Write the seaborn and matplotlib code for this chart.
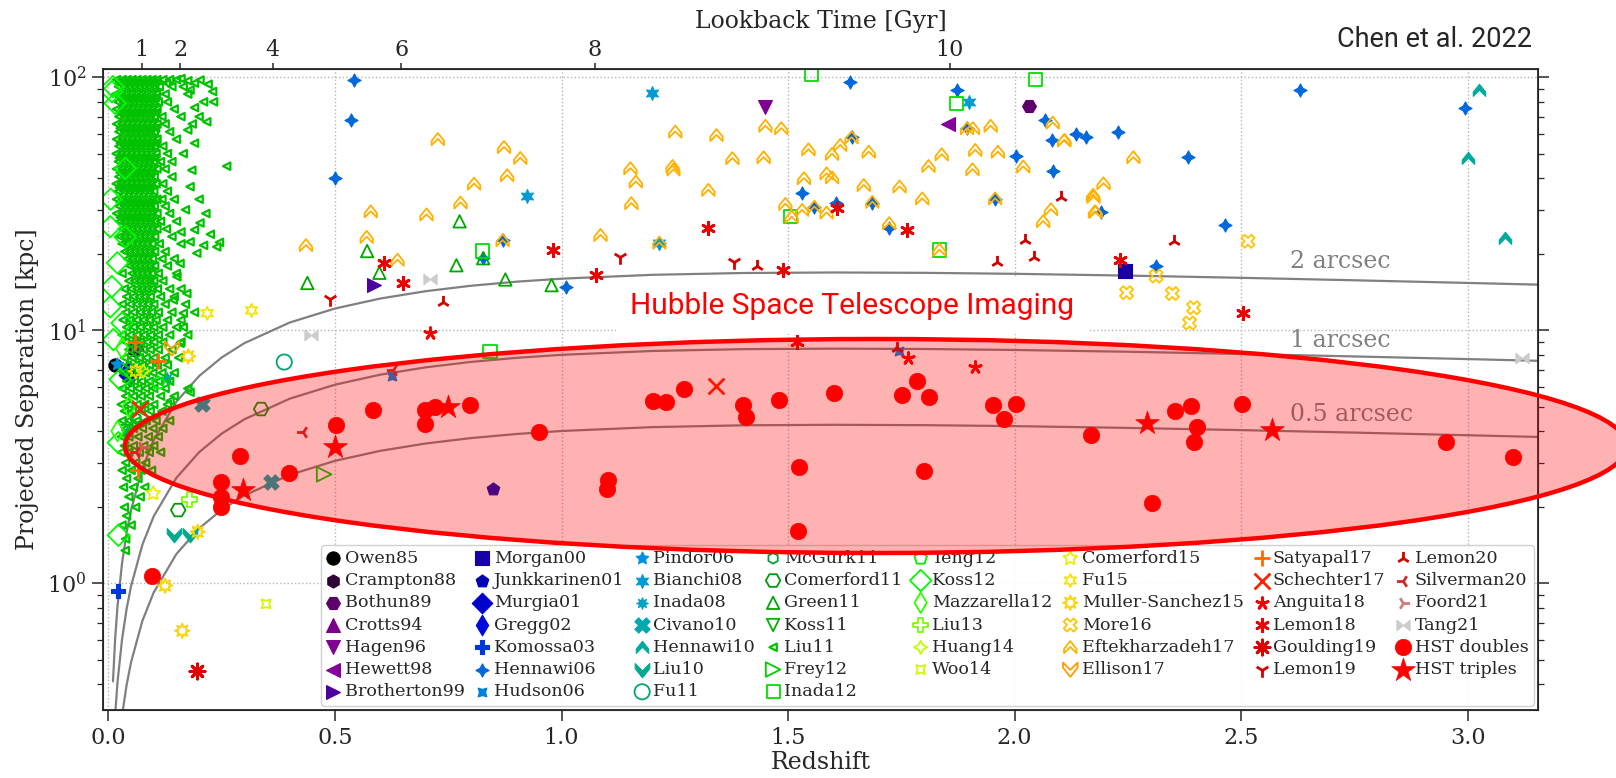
import numpy as np
import matplotlib
matplotlib.use("Agg")
import matplotlib.pyplot as plt
from matplotlib.path import Path
from matplotlib.patches import Ellipse
import seaborn as sns

sns.set_style("ticks")
plt.rcParams["font.family"] = ["DejaVu Serif"]
plt.rcParams["mathtext.fontset"] = "dejavuserif"

# ---------------- data (redshift, projected separation kpc) ----------------
owen85 = [(0.015, 7.3)]
crampton88 = [(0.057, 8.4)]
bothun89 = [(2.032, 77.0), (0.059, 8.6)]
crotts94 = [(0.062, 8.8)]
hagen96 = [(1.450, 76.6)]
hewett98 = [(1.852, 65.3)]
brotherton99 = [(0.585, 15.1)]
morgan00 = [(2.243, 17.1)]
junkkarinen01 = [(0.848, 2.37)]
murgia01 = [(0.046, 6.66)]
gregg02 = [(0.040, 6.9)]
komossa03 = [(0.022, 0.93)]
hennawi06 = [(0.542, 97.8), (0.536, 67.8), (0.50, 40.0), (1.636, 96.2), (1.873, 89.6),
             (2.067, 68.2), (2.084, 42.6), (1.531, 34.8), (1.558, 30.8), (1.605, 31.8),
             (1.686, 32.0), (1.723, 25.3), (1.957, 33.0), (1.640, 57.9), (1.895, 62.9),
             (2.082, 56.5), (2.135, 59.7), (2.158, 58.2), (2.003, 48.8), (1.216, 22.2),
             (1.009, 14.8), (2.228, 61.0), (2.382, 48.6), (2.465, 26.2), (2.313, 17.9),
             (2.629, 89.1), (2.994, 75.4), (2.190, 29.4), (0.870, 22.7), (0.827, 19.3)]
hudson06 = [(0.625, 6.6), (1.745, 8.3)]
pindor06 = [(0.020, 7.4)]
bianchi08 = [(1.200, 86.5), (1.899, 80.1), (1.216, 22.2), (0.923, 34.0), (0.041, 3.94)]
inada08 = [(0.129, 6.46)]
civano10 = [(0.359, 2.52), (0.206, 5.14)]
hennawi10 = [(3.024, 89.6), (3.000, 47.9), (3.082, 23.1)]
liu10 = [(0.145, 1.55), (0.179, 1.55)]
fu11 = [(0.388, 7.5)]
mcgurk11 = [(0.060, 4.5)]
comerford11 = [(0.337, 4.89), (0.154, 1.95)]
green11 = [(0.439, 15.4), (0.598, 16.9), (0.571, 20.6), (0.876, 15.9), (0.978, 15.1),
           (0.768, 18.1), (0.775, 27.0), (0.827, 19.3)]
koss11 = [(0.040, 4.0)]
liu11_rows = {
    98: [0.018, 0.03, 0.041, 0.052, 0.063, 0.074, 0.085, 0.096, 0.107, 0.12, 0.135, 0.15],
    95: [0.024, 0.036, 0.047, 0.058, 0.069, 0.08, 0.091, 0.102, 0.128],
    92: [0.022, 0.035, 0.046, 0.057, 0.068, 0.079, 0.09, 0.101, 0.112, 0.14, 0.165],
    86: [0.016, 0.028, 0.04, 0.051, 0.062, 0.073, 0.084, 0.095, 0.106, 0.125, 0.175],
    83: [0.025, 0.037, 0.048, 0.059, 0.07, 0.081, 0.092, 0.103],
    80: [0.021, 0.033, 0.044, 0.055, 0.066, 0.077, 0.088, 0.099, 0.11, 0.13],
    75: [0.018, 0.03, 0.041, 0.052, 0.063, 0.074, 0.085, 0.096, 0.107, 0.145],
    72.5: [0.026, 0.038, 0.049, 0.06, 0.071, 0.082, 0.093, 0.104],
    70: [0.023, 0.035, 0.046, 0.057, 0.068, 0.079, 0.09, 0.101, 0.118, 0.16],
    65.5: [0.018, 0.03, 0.041, 0.052, 0.063, 0.074, 0.085, 0.096, 0.107, 0.125, 0.185],
    63: [0.026, 0.038, 0.049, 0.06, 0.071, 0.082, 0.093, 0.104],
    61: [0.023, 0.035, 0.046, 0.057, 0.068, 0.079, 0.09, 0.101, 0.135],
    57: [0.018, 0.03, 0.041, 0.052, 0.063, 0.074, 0.085, 0.096, 0.107, 0.15],
    55: [0.026, 0.038, 0.049, 0.06, 0.071, 0.082, 0.093, 0.104],
    53.5: [0.023, 0.035, 0.046, 0.057, 0.068, 0.079, 0.09, 0.101, 0.12],
    50: [0.017, 0.028, 0.039, 0.05, 0.061, 0.072, 0.083, 0.094, 0.105, 0.13],
    48: [0.024, 0.036, 0.047, 0.058, 0.069, 0.08, 0.091, 0.102],
    46.5: [0.022, 0.034, 0.045, 0.056, 0.067, 0.078, 0.089, 0.1, 0.115, 0.14],
    43.5: [0.018, 0.03, 0.041, 0.052, 0.063, 0.074, 0.085, 0.096, 0.107, 0.125],
    42: [0.026, 0.038, 0.049, 0.06, 0.071, 0.082, 0.093],
    40.5: [0.023, 0.035, 0.046, 0.057, 0.068, 0.079, 0.09, 0.101, 0.14],
    38: [0.017, 0.028, 0.039, 0.05, 0.061, 0.072, 0.083, 0.094, 0.105, 0.12],
    36.7: [0.024, 0.036, 0.047, 0.058, 0.069, 0.08, 0.091],
    35.5: [0.022, 0.034, 0.045, 0.056, 0.067, 0.078, 0.089, 0.1, 0.13],
    33: [0.018, 0.03, 0.041, 0.052, 0.063, 0.074, 0.085, 0.096, 0.107, 0.118, 0.145],
    32: [0.026, 0.038, 0.049, 0.06, 0.071, 0.082, 0.093],
    31: [0.023, 0.035, 0.046, 0.057, 0.068, 0.079, 0.09, 0.101, 0.125],
    29: [0.018, 0.03, 0.041, 0.052, 0.063, 0.074, 0.085, 0.096, 0.107, 0.135],
    28: [0.026, 0.038, 0.049, 0.06, 0.071, 0.082, 0.093],
    27: [0.025, 0.036, 0.047, 0.058, 0.069, 0.08, 0.091, 0.102, 0.115, 0.15],
    25.2: [0.03, 0.041, 0.052, 0.063, 0.074, 0.085, 0.096, 0.107, 0.128],
    23.5: [0.025, 0.036, 0.047, 0.058, 0.069, 0.08, 0.091, 0.102, 0.14],
    22: [0.03, 0.041, 0.052, 0.063, 0.074, 0.085, 0.096, 0.112, 0.16],
    20.5: [0.036, 0.047, 0.058, 0.069, 0.08, 0.091, 0.102, 0.125],
    19.2: [0.042, 0.053, 0.064, 0.075, 0.086, 0.097, 0.118, 0.145],
    18: [0.047, 0.058, 0.069, 0.08, 0.091, 0.102, 0.13],
    16.8: [0.03, 0.052, 0.063, 0.074, 0.085, 0.096, 0.11, 0.15],
    15.7: [0.045, 0.058, 0.069, 0.08, 0.091, 0.1, 0.12],
    14.6: [0.035, 0.05, 0.063, 0.074, 0.085, 0.096, 0.108, 0.135, 0.16],
    13.6: [0.04, 0.055, 0.068, 0.08, 0.092, 0.115, 0.145],
    12.7: [0.03, 0.048, 0.062, 0.075, 0.087, 0.1, 0.125, 0.17],
    11.8: [0.038, 0.055, 0.07, 0.083, 0.095, 0.11, 0.14, 0.19],
    11: [0.032, 0.047, 0.062, 0.077, 0.09, 0.105, 0.13, 0.16],
    10.3: [0.04, 0.055, 0.07, 0.085, 0.1, 0.12, 0.15],
    9.6: [0.03, 0.048, 0.063, 0.078, 0.093, 0.11, 0.135, 0.175],
    9.0: [0.038, 0.055, 0.07, 0.085, 0.1, 0.12, 0.16],
    8.4: [0.045, 0.062, 0.077, 0.092, 0.11, 0.14],
    7.8: [0.035, 0.052, 0.068, 0.083, 0.1, 0.125, 0.155],
    7.3: [0.042, 0.06, 0.075, 0.09, 0.108, 0.13],
    6.8: [0.033, 0.05, 0.067, 0.082, 0.098, 0.118, 0.145],
    6.3: [0.04, 0.057, 0.073, 0.09, 0.11, 0.135],
    5.9: [0.03, 0.048, 0.065, 0.082, 0.1, 0.125, 0.175],
    5.5: [0.038, 0.055, 0.072, 0.09, 0.115, 0.145],
    5.1: [0.028, 0.045, 0.063, 0.08, 0.1, 0.13],
    4.8: [0.035, 0.053, 0.072, 0.092, 0.118],
    4.4: [0.03, 0.045, 0.063, 0.083, 0.105, 0.135],
    4.1: [0.038, 0.055, 0.075, 0.098, 0.12],
    3.8: [0.028, 0.045, 0.065, 0.088, 0.11],
    3.5: [0.035, 0.055, 0.078, 0.1],
    3.3: [0.028, 0.045, 0.068, 0.09, 0.115],
    3.0: [0.038, 0.06, 0.082],
    2.8: [0.03, 0.05, 0.072, 0.095],
    2.6: [0.04, 0.065],
    2.4: [0.033, 0.055, 0.08],
    2.2: [0.045, 0.07],
    2.0: [0.035, 0.06],
    1.85: [0.04],
    1.7: [0.03, 0.05],
    1.5: [0.038],
}
liu11_extra = [(0.202, 97.7), (0.180, 89.2), (0.210, 80.1), (0.232, 80.1), (0.217, 66.8),
               (0.184, 43.0), (0.261, 44.6), (0.202, 26.6), (0.180, 22.4), (0.210, 21.7),
               (0.239, 21.4), (0.195, 20.2), (0.158, 18.4), (0.151, 16.3), (0.173, 14.0),
               (0.143, 13.2), (0.165, 11.7), (0.165, 10.3), (0.158, 8.9), (0.180, 5.7),
               (0.190, 95.0), (0.175, 97.0), (0.160, 99.0), (0.220, 94.0), (0.230, 88.0),
               (0.190, 76.0), (0.200, 70.0), (0.175, 62.0), (0.190, 55.0), (0.165, 50.0),
               (0.180, 37.0), (0.200, 33.0), (0.170, 30.0), (0.215, 29.0), (0.190, 25.0),
               (0.225, 24.0), (0.160, 24.5), (0.245, 22.3), (0.136, 5.27), (0.037, 1.35)]
liu11 = [(z, y) for y, zs in liu11_rows.items() for z in zs] + liu11_extra
frey12 = [(0.476, 2.70)]
inada12 = [(0.842, 8.23), (0.826, 20.6), (1.551, 103.0), (1.872, 78.9), (2.046, 98.2),
           (1.506, 28.3), (1.834, 20.8)]
teng12 = [(0.110, 6.2)]
koss12 = [(0.0075, 87.8), (0.015, 79.0), (0.037, 43.7), (0.004, 25.7), (0.037, 23.4),
          (0.0075, 14.9), (0.004, 12.4), (0.030, 10.7), (0.011, 9.2), (0.026, 6.4),
          (0.022, 3.6), (0.022, 1.55), (0.010, 92.0), (0.005, 33.0), (0.020, 18.5)]
mazzarella12 = [(0.030, 8.5), (0.045, 5.0), (0.020, 4.0)]
liu13 = [(0.179, 2.15)]
huang14 = [(0.077, 6.9)]
woo14 = [(0.348, 0.83)]
comerford15 = [(0.099, 2.27)]
fu15 = [(0.218, 11.7), (0.316, 12.0)]
muller_sanchez15 = [(0.197, 1.60), (0.125, 0.98), (0.163, 0.65), (0.176, 7.9), (0.060, 6.9)]
more16 = [(2.312, 16.4), (2.247, 14.1), (2.348, 14.0), (2.395, 12.3), (2.386, 10.7), (2.515, 22.5)]
eftekharzadeh17 = [(1.152, 43.7), (1.164, 38.7), (1.154, 31.8), (1.086, 23.8), (1.251, 61.0),
                   (1.245, 44.6), (1.247, 43.2), (1.342, 59.1), (1.324, 35.9), (1.377, 47.9),
                   (1.446, 48.3), (1.450, 64.3), (1.485, 62.9), (1.494, 31.6), (1.531, 29.9),
                   (1.545, 51.9), (1.535, 39.9), (1.597, 49.8), (1.615, 54.0), (1.585, 41.7),
                   (1.597, 40.2), (1.585, 29.2), (1.678, 50.8), (1.667, 37.5), (1.746, 37.0),
                   (1.796, 33.2), (1.810, 44.6), (1.839, 49.6), (1.913, 51.6), (1.907, 43.3),
                   (1.963, 50.8), (1.947, 64.3), (1.908, 62.9), (2.019, 44.4), (2.080, 30.1),
                   (2.063, 27.0), (2.084, 66.2), (2.110, 56.5), (2.173, 34.3), (2.177, 29.5),
                   (1.508, 28.1), (1.834, 20.8), (1.723, 26.5), (1.957, 33.2), (1.686, 32.2),
                   (1.558, 30.8), (1.216, 22.2), (1.640, 57.9), (1.895, 62.9), (2.262, 48.3),
                   (2.196, 38.1), (2.174, 33.7), (2.179, 29.4), (2.109, 56.3), (0.727, 57.0),
                   (0.873, 53.0), (0.909, 48.0), (0.880, 41.0), (0.777, 32.0), (0.807, 38.0),
                   (0.702, 28.7), (0.579, 29.5), (0.570, 23.4), (0.436, 21.7), (0.638, 19.0),
                   (0.870, 22.7)]
ellison17 = [(0.140, 8.5)]
satyapal17 = [(0.059, 9.0), (0.110, 7.6), (0.066, 2.8)]
schechter17 = [(1.340, 6.02), (0.070, 4.9)]
anguita18 = [(1.764, 7.75), (1.912, 7.18), (0.710, 9.78)]
lemon18 = [(1.520, 9.02), (2.503, 11.7), (2.233, 19.0), (0.649, 15.4), (0.608, 18.5),
           (1.077, 16.5), (0.982, 20.8), (1.324, 25.3), (1.762, 24.9), (1.609, 30.6), (1.488, 17.3)]
goulding19 = [(0.195, 0.45)]
lemon19 = [(0.489, 13.3), (1.129, 19.5), (1.380, 18.7)]
lemon20 = [(0.739, 12.9), (1.741, 8.53), (1.431, 17.9), (2.022, 22.7), (2.042, 19.5),
           (1.961, 18.7), (2.102, 33.6), (2.352, 22.5)]
silverman20 = [(0.430, 3.97), (0.627, 6.97), (0.060, 3.3)]
foord21 = [(0.074, 3.47)]
tang21 = [(0.446, 9.58), (0.710, 15.9), (3.120, 7.8)]
hst_doubles = [(0.097, 1.07), (0.248, 2.52), (0.248, 2.20), (0.248, 2.01), (0.290, 3.19),
               (0.399, 2.74), (0.502, 4.22), (0.584, 4.84), (0.699, 4.84), (0.720, 4.99),
               (0.699, 4.25), (0.799, 5.07), (0.950, 3.95), (1.103, 2.56), (1.101, 2.37),
               (1.201, 5.27), (1.230, 5.22), (1.270, 5.85), (1.400, 5.07), (1.408, 4.56),
               (1.480, 5.30), (1.524, 2.89), (1.522, 1.61), (1.601, 5.67), (1.751, 5.58),
               (1.785, 6.32), (1.812, 5.47), (1.801, 2.79), (1.952, 5.07), (2.002, 5.14),
               (1.976, 4.45), (2.169, 3.86), (2.353, 4.81), (2.389, 5.02), (2.402, 4.14),
               (2.395, 3.63), (2.502, 5.11), (2.303, 2.08), (2.952, 3.63), (3.100, 3.15)]
hst_triples = [(0.298, 2.34), (0.499, 3.47), (0.750, 4.99), (2.292, 4.29), (2.569, 4.04)]

# angular scale table (kpc per arcsec vs redshift)
scale_z = [0.01, 0.015, 0.02, 0.03, 0.04, 0.05, 0.075, 0.1, 0.15, 0.2, 0.25, 0.3, 0.4, 0.5,
           0.6, 0.7, 0.8, 0.9, 1.0, 1.2, 1.4, 1.6, 1.8, 2.0, 2.25, 2.5, 2.75, 3.0, 3.25]
kpc_per_arcsec = [0.2051, 0.3058, 0.4063, 0.6006, 0.7915, 0.9775, 1.424, 1.844, 2.614, 3.300,
                  3.910, 4.454, 5.373, 6.104, 6.686, 7.146, 7.509, 7.792, 8.009, 8.295, 8.434,
                  8.474, 8.446, 8.372, 8.237, 8.073, 7.893, 7.705, 7.514]
arcsec_values = [2, 1, 0.5]
arcsec_labels = ["2 arcsec", "1 arcsec", "0.5 arcsec"]
arcsec_label_y = [17.6, 8.61, 4.39]

lookback_z = [0.0735, 0.158, 0.363, 0.646, 1.074, 1.857]
lookback_labels = ["1", "2", "4", "6", "8", "10"]

# ---------------- markers ----------------
chev_up = Path([(0, 1), (1, -0.25), (1, -0.95), (0, 0.05), (-1, -0.95), (-1, -0.25), (0, 1)],
               [Path.MOVETO] + [Path.LINETO] * 5 + [Path.CLOSEPOLY])
chev_dn = Path([(0, -1), (1, 0.25), (1, 0.95), (0, -0.05), (-1, 0.95), (-1, 0.25), (0, -1)],
               [Path.MOVETO] + [Path.LINETO] * 5 + [Path.CLOSEPOLY])
bowtie = Path([(-1, -0.8), (-1, 0.8), (0, 0), (1, 0.8), (1, -0.8), (0, 0), (-1, -0.8)],
              [Path.MOVETO] + [Path.LINETO] * 5 + [Path.CLOSEPOLY])

# name, data, marker, filled, size
series = [
    ("Owen85", owen85, "o", True, 90),
    ("Crampton88", crampton88, "h", True, 90),
    ("Bothun89", bothun89, "H", True, 100),
    ("Crotts94", crotts94, "^", True, 100),
    ("Hagen96", hagen96, "v", True, 100),
    ("Hewett98", hewett98, "<", True, 100),
    ("Brotherton99", brotherton99, ">", True, 100),
    ("Morgan00", morgan00, "s", True, 110),
    ("Junkkarinen01", junkkarinen01, "p", True, 90),
    ("Murgia01", murgia01, "D", True, 110),
    ("Gregg02", gregg02, "d", True, 110),
    ("Komossa03", komossa03, "P", True, 110),
    ("Hennawi06", hennawi06, (4, 1, 0), True, 90),
    ("Hudson06", hudson06, (4, 1, 45), True, 80),
    ("Pindor06", pindor06, (5, 1, 0), True, 90),
    ("Bianchi08", bianchi08, (6, 1, 0), True, 100),
    ("Inada08", inada08, (8, 1, 0), True, 70),
    ("Civano10", civano10, "X", True, 120),
    ("Hennawi10", hennawi10, chev_up, True, 80),
    ("Liu10", liu10, chev_dn, True, 110),
    ("Fu11", fu11, "o", False, 120),
    ("McGurk11", mcgurk11, "h", False, 60),
    ("Comerford11", comerford11, "H", False, 110),
    ("Green11", green11, "^", False, 80),
    ("Koss11", koss11, "v", False, 80),
    ("Liu11", liu11, "<", False, 28),
    ("Frey12", frey12, ">", False, 110),
    ("Inada12", inada12, "s", False, 90),
    ("Teng12", teng12, "p", False, 90),
    ("Koss12", koss12, "D", False, 120),
    ("Mazzarella12", mazzarella12, "d", False, 110),
    ("Liu13", liu13, "P", False, 110),
    ("Huang14", huang14, (4, 1, 0), False, 90),
    ("Woo14", woo14, (4, 1, 45), False, 80),
    ("Comerford15", comerford15, (5, 1, 0), False, 110),
    ("Fu15", fu15, (6, 1, 0), False, 90),
    ("Muller-Sanchez15", muller_sanchez15, (8, 1, 0), False, 110),
    ("More16", more16, "X", False, 90),
    ("Eftekharzadeh17", eftekharzadeh17, chev_up, False, 80),
    ("Ellison17", ellison17, chev_dn, False, 110),
    ("Satyapal17", satyapal17, "+", None, 130),
    ("Schechter17", schechter17, "x", None, 130),
    ("Anguita18", anguita18, (5, 2, 0), None, 70),
    ("Lemon18", lemon18, (6, 2, 0), None, 80),
    ("Goulding19", goulding19, (8, 2, 0), None, 120),
    ("Lemon19", lemon19, "1", None, 110),
    ("Lemon20", lemon20, "2", None, 90),
    ("Silverman20", silverman20, "3", None, 90),
    ("Foord21", foord21, "4", None, 90),
    ("Tang21", tang21, bowtie, True, 90),
]
colors = plt.cm.nipy_spectral(np.linspace(0, 1, len(series)))

# ---------------- figure ----------------
fig = plt.figure(figsize=(16.16, 7.78), dpi=100)
ax = fig.add_axes([103 / 1616, 1 - 710 / 778, 1435 / 1616, 641 / 778])
ax.set_yscale("log")
ax.set_axisbelow(True)

for a, lab, ly in zip(arcsec_values, arcsec_labels, arcsec_label_y):
    sns.lineplot(x=scale_z, y=[a * s for s in kpc_per_arcsec], color="#808080", lw=1.6,
                 ax=ax, estimator=None, sort=False, zorder=2)
    ax.text(2.607, ly, lab, color="#808080", fontsize=17, ha="left", va="baseline", zorder=2)

for (name, pts, mk, filled, s), col in zip(series, colors):
    zz = [p[0] for p in pts]
    yy = [p[1] for p in pts]
    kw = dict(x=zz, y=yy, marker=mk, s=s, ax=ax, label=name, legend=False, zorder=3)
    if filled is None:
        sns.scatterplot(color=col, linewidth=2.0, **kw)
    elif filled:
        sns.scatterplot(color=col, edgecolor=col, linewidth=0.8, **kw)
    else:
        lw = 1.6 if name == "Liu11" else 1.3
        sns.scatterplot(color=col, facecolor="none", edgecolor=col, linewidth=lw, **kw)

sns.scatterplot(x=[p[0] for p in hst_doubles], y=[p[1] for p in hst_doubles], marker="o",
                s=140, color="red", edgecolor="red", linewidth=0.5, ax=ax,
                label="HST doubles", legend=False, zorder=4)
sns.scatterplot(x=[p[0] for p in hst_triples], y=[p[1] for p in hst_triples], marker="*",
                s=320, color="red", edgecolor="red", linewidth=0.5, ax=ax,
                label="HST triples", legend=False, zorder=4)

ax.set_xlim(-0.012, 3.155)
ax.set_ylim(0.316, 108)
ax.grid(True, which="major", ls=":", color="#b5b5b5", lw=1.0)
ax.tick_params(which="major", direction="out", length=8, width=1.1, labelsize=16,
               right=True, top=False, pad=4)
ax.tick_params(which="minor", direction="out", length=4, width=0.9, right=True, top=False)
ax.set_xticks([0.0, 0.5, 1.0, 1.5, 2.0, 2.5, 3.0])
ax.set_xlabel("Redshift", fontsize=17, labelpad=2)
ax.set_ylabel("Projected Separation [kpc]", fontsize=17, labelpad=6)
for sp in ax.spines.values():
    sp.set_linewidth(1.3)

ax2 = ax.twiny()
ax2.set_xlim(ax.get_xlim())
ax2.set_xticks(lookback_z)
ax2.set_xticklabels(lookback_labels)
ax2.tick_params(direction="out", length=4, width=1.1, labelsize=16, pad=2)
ax2.set_xlabel("Lookback Time [Gyr]", fontsize=17, labelpad=8)

handles, labels = ax.get_legend_handles_labels()
leg = ax.legend(handles, labels, loc="lower right", ncol=8, fontsize=12.6,
                borderaxespad=0.25, handlelength=0.8, handletextpad=0.25,
                columnspacing=0.62, labelspacing=0.3, borderpad=0.3,
                scatterpoints=1, framealpha=0.9, edgecolor="0.8")
leg.set_zorder(6)

ax.text(1.64, 11.6, "Hubble Space Telescope Imaging", color="red", fontsize=21.5,
        family=["Roboto", "DejaVu Sans"], ha="center", va="baseline",
        zorder=5, bbox=dict(facecolor="white", edgecolor="none", pad=10))
fig.text(0.948, 0.949, "Chen et al. 2022", fontsize=19.5, ha="right", va="center",
         family=["Roboto", "DejaVu Sans"])

ell = Ellipse((876 / 1616, 1 - 446 / 778), 1502 / 1616, 214 / 778, transform=fig.transFigure,
              facecolor=(1, 0, 0, 0.3), edgecolor="red", linewidth=3.2, zorder=10)
fig.patches.append(ell)

fig.savefig("out.png", dpi=100)
